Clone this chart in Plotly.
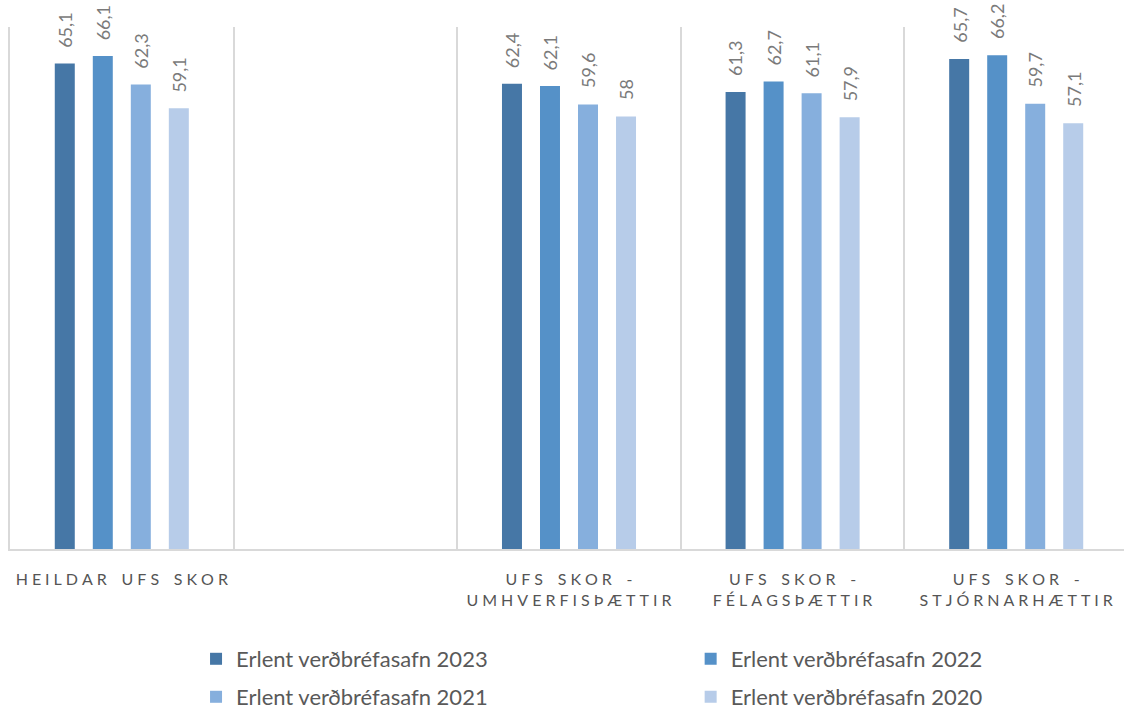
import plotly.graph_objects as go

SP = "\u2005"
WSP = "\u2004 \u2004"

def spaced(s):
    words = s.split(" ")
    return WSP.join(SP.join(list(w)) for w in words)

categories = ["HEILDAR UFS SKOR", " ", "UFS SKOR - UMHVERFISÞÆTTIR",
              "UFS SKOR - FÉLAGSÞÆTTIR", "UFS SKOR - STJÓRNARHÆTTIR"]
tick_labels = [spaced("HEILDAR UFS SKOR"), " ",
               spaced("UFS SKOR -") + "<br>" + spaced("UMHVERFISÞÆTTIR"),
               spaced("UFS SKOR -") + "<br>" + spaced("FÉLAGSÞÆTTIR"),
               spaced("UFS SKOR -") + "<br>" + spaced("STJÓRNARHÆTTIR")]

series_names = ["Erlent verðbréfasafn 2023", "Erlent verðbréfasafn 2022",
                "Erlent verðbréfasafn 2021", "Erlent verðbréfasafn 2020"]
v2023 = [65.1, None, 62.4, 61.3, 65.7]
v2022 = [66.1, None, 62.1, 62.7, 66.2]
v2021 = [62.3, None, 59.6, 61.1, 59.7]
v2020 = [59.1, None, 58.0, 57.9, 57.1]
values = [v2023, v2022, v2021, v2020]
colors = ["#4677A6", "#5591C8", "#86AFDD", "#B7CCE9"]
legend_ids = ["legend", "legend2", "legend3", "legend4"]
legend_x = [0.167, 0.611, 0.167, 0.611]
legend_y = [-0.2107, -0.2107, -0.2835, -0.2835]

FONT = "Lato"
GAP = 0.32
GROUPGAP = 0.474

fig = go.Figure()
for name, vals, col, lg in zip(series_names, values, colors, legend_ids):
    fig.add_trace(go.Bar(name=name, x=categories, y=vals, marker_color=col,
                         marker_line_width=0, legend=lg, showlegend=True))

def fmt(v):
    return f"{v:g}".replace(".", ",")

slot = (1 - GAP) / len(values)
for i, vals in enumerate(values):
    off = (i - (len(values) - 1) / 2) * slot
    for j, v in enumerate(vals):
        if v is None:
            continue
        fig.add_annotation(x=j + off, y=v, text=fmt(v), textangle=-90,
                           showarrow=False, yanchor="bottom", xanchor="center",
                           yshift=14, font=dict(family=FONT, size=18, color="#7a7a7a"))

legend_layout = {}
for lg, lx, ly in zip(legend_ids, legend_x, legend_y):
    legend_layout[lg] = dict(orientation="h", x=lx, xanchor="left", y=ly,
                             yanchor="middle", bgcolor="rgba(0,0,0,0)",
                             font=dict(family=FONT, size=22, color="#595959"))

fig.update_layout(
    width=1124, height=709, showlegend=True,
    margin=dict(l=10, r=0, t=27, b=160, autoexpand=False),
    paper_bgcolor="white", plot_bgcolor="white",
    barmode="group", bargap=GAP, bargroupgap=GROUPGAP,
    font=dict(family=FONT, color="#595959"),
    xaxis=dict(type="category", range=[-0.5, -0.5 + 1114 / 223.6],
               tickvals=categories, ticktext=tick_labels,
               tickson="boundaries", ticks="", showgrid=True, gridcolor="#d9d9d9",
               gridwidth=1.5, showline=True, linecolor="#d9d9d9", linewidth=2,
               tickfont=dict(family=FONT, size=16, color="#555555"),
               ticklabelstandoff=15, fixedrange=True),
    yaxis=dict(range=[0, 70], showgrid=False, showticklabels=False, ticks="",
               zeroline=False, showline=True, linecolor="#d9d9d9", linewidth=1.5,
               fixedrange=True),
    **legend_layout,
)

fig.write_html("out.html", config={"displayModeBar": False},
               post_script="document.body.style.margin='0';"
                           "document.body.style.overflow='hidden';")
